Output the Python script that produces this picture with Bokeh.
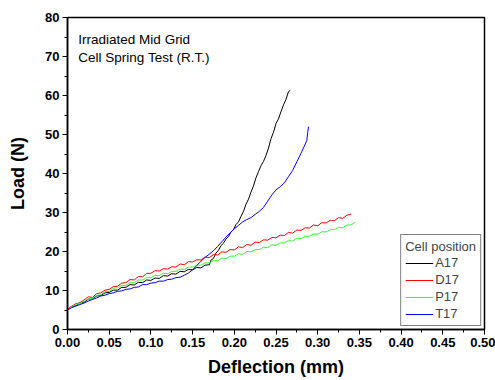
from bokeh.plotting import figure
from bokeh.models import (Range1d, SingleIntervalTicker, NumeralTickFormatter,
                          Label, Legend)
from bokeh.embed import file_html
from bokeh.resources import INLINE

# ---------------- data ----------------
a17_x = [0.000, 0.005, 0.010, 0.015, 0.020, 0.025, 0.030, 0.035, 0.040, 0.045, 0.050, 0.055,
         0.060, 0.065, 0.070, 0.075, 0.080, 0.085, 0.090, 0.095, 0.100, 0.105, 0.110, 0.115,
         0.120, 0.125, 0.130, 0.135, 0.140, 0.145, 0.150, 0.155, 0.160, 0.165, 0.170, 0.172,
         0.175, 0.178, 0.181, 0.184, 0.187, 0.190, 0.193, 0.196, 0.199, 0.202, 0.205, 0.208,
         0.211, 0.214, 0.217, 0.220, 0.223, 0.226, 0.229, 0.232, 0.235, 0.238, 0.241, 0.244,
         0.247, 0.250, 0.253, 0.256, 0.259, 0.262, 0.265, 0.267]
a17_y = [5.0, 5.9, 6.1, 6.8, 7.0, 7.8, 7.9, 8.6, 8.7, 9.4, 9.5, 10.1,
         10.1, 10.8, 10.8, 11.5, 11.4, 12.1, 12.0, 12.7, 12.6, 13.2, 13.1, 13.8,
         13.7, 14.3, 14.2, 14.9, 14.8, 15.4, 15.3, 15.9, 15.8, 16.5, 16.6, 17.8,
         18.2, 19.6, 20.3, 21.5, 22.1, 23.2, 23.8, 25.0, 25.6, 26.9, 27.6, 29.0,
         30.3, 32.1, 33.4, 35.2, 36.8, 38.9, 40.5, 42.0, 43.1, 44.6, 46.5, 48.9,
         50.6, 52.8, 54.0, 55.9, 57.6, 59.0, 61.0, 61.3]

d17_x = [0.000, 0.005, 0.010, 0.015, 0.020, 0.025, 0.030, 0.035, 0.040, 0.045, 0.050, 0.055,
         0.060, 0.065, 0.070, 0.075, 0.080, 0.085, 0.090, 0.095, 0.100, 0.105, 0.110, 0.115,
         0.120, 0.125, 0.130, 0.135, 0.140, 0.145, 0.150, 0.155, 0.160, 0.165, 0.170, 0.175,
         0.180, 0.185, 0.190, 0.195, 0.200, 0.205, 0.210, 0.215, 0.220, 0.225, 0.230, 0.235,
         0.240, 0.245, 0.250, 0.255, 0.260, 0.265, 0.270, 0.275, 0.280, 0.285, 0.290, 0.295,
         0.300, 0.305, 0.310, 0.315, 0.320, 0.325, 0.330, 0.335, 0.340]
d17_y = [5.2, 6.0, 6.6, 6.9, 7.6, 8.4, 8.2, 9.2, 9.4, 10.1, 10.3, 11.0,
         11.1, 11.9, 12.0, 12.8, 12.7, 13.6, 13.5, 14.4, 14.4, 15.1, 15.0, 15.6,
         15.5, 16.1, 16.0, 16.8, 16.6, 17.4, 17.3, 17.9, 17.8, 18.6, 18.4, 19.2,
         19.1, 19.9, 19.8, 20.5, 20.4, 21.2, 21.0, 21.8, 21.6, 22.4, 22.3, 23.0,
         22.9, 23.6, 23.5, 24.2, 24.1, 24.9, 24.7, 25.5, 25.4, 26.1, 26.0, 26.8,
         26.6, 27.4, 27.3, 28.0, 27.9, 28.7, 28.5, 29.3, 29.6]

p17_x = [0.000, 0.005, 0.010, 0.015, 0.020, 0.025, 0.030, 0.035, 0.040, 0.045, 0.050, 0.055,
         0.060, 0.065, 0.070, 0.075, 0.080, 0.085, 0.090, 0.095, 0.100, 0.105, 0.110, 0.115,
         0.120, 0.125, 0.130, 0.135, 0.140, 0.145, 0.150, 0.155, 0.160, 0.165, 0.170, 0.175,
         0.180, 0.185, 0.190, 0.195, 0.200, 0.205, 0.210, 0.215, 0.220, 0.225, 0.230, 0.235,
         0.240, 0.245, 0.250, 0.255, 0.260, 0.265, 0.270, 0.275, 0.280, 0.285, 0.290, 0.295,
         0.300, 0.305, 0.310, 0.315, 0.320, 0.325, 0.330, 0.335, 0.340, 0.345]
p17_y = [4.8, 5.9, 6.4, 6.7, 7.3, 7.9, 8.0, 8.8, 8.9, 9.7, 9.8, 10.6,
         10.7, 11.3, 11.3, 12.0, 12.0, 12.7, 12.7, 13.3, 13.3, 13.9, 13.8, 14.4,
         14.3, 14.9, 14.9, 15.5, 15.4, 16.0, 16.0, 16.5, 16.5, 17.1, 17.1, 17.7,
         17.6, 18.3, 18.2, 18.8, 18.8, 19.4, 19.3, 20.0, 19.9, 20.5, 20.5, 21.1,
         21.0, 21.7, 21.6, 22.2, 22.2, 22.8, 22.7, 23.4, 23.3, 23.9, 23.9, 24.5,
         24.4, 25.1, 25.0, 25.6, 25.6, 26.2, 26.1, 26.8, 26.8, 27.5]

t17_x = [0.000, 0.005, 0.010, 0.015, 0.020, 0.025, 0.030, 0.035, 0.040, 0.045, 0.050, 0.055,
         0.060, 0.065, 0.070, 0.075, 0.080, 0.085, 0.090, 0.095, 0.100, 0.105, 0.110, 0.115,
         0.120, 0.125, 0.130, 0.135, 0.140, 0.145, 0.150, 0.155, 0.160, 0.165, 0.170, 0.175,
         0.180, 0.185, 0.190, 0.195, 0.200, 0.205, 0.210, 0.215, 0.220, 0.225, 0.230, 0.235,
         0.240, 0.245, 0.250, 0.255, 0.260, 0.265, 0.270, 0.275, 0.280, 0.284, 0.287, 0.288,
         0.289]
t17_y = [5.0, 5.6, 6.0, 6.4, 6.8, 7.3, 7.7, 8.1, 8.6, 8.8, 9.2, 9.4,
         9.8, 9.9, 10.3, 10.4, 10.8, 10.9, 11.5, 11.5, 11.9, 12.0, 12.4, 12.4,
         12.8, 12.9, 13.3, 13.4, 13.9, 14.5, 15.3, 16.4, 17.5, 18.5, 19.3, 20.2,
         21.3, 22.5, 23.7, 24.8, 25.8, 26.7, 27.6, 28.2, 28.7, 29.5, 30.3, 31.3,
         32.9, 34.5, 35.8, 36.6, 37.6, 39.2, 40.8, 43.0, 45.2, 47.0, 48.5, 50.5,
         52.0]

series_names = ["A17", "D17", "P17", "T17"]
series_colors = ["#000000", "#ff0000", "#33ff33", "#0000ff"]
series_x = [a17_x, d17_x, p17_x, t17_x]
series_y = [a17_y, d17_y, p17_y, t17_y]

note_lines = ["Irradiated Mid Grid", "Cell Spring Test (R.T.)"]
x_title = "Deflection (mm)"
y_title = "Load (N)"
legend_title = "Cell position"

FONT = "Liberation Sans"

p = figure(width=495, height=380, output_backend="svg", toolbar_location=None,
           x_range=Range1d(0, 0.5), y_range=Range1d(0, 80),
           min_border_left=67, min_border_right=11, min_border_top=17, min_border_bottom=51)
p.background_fill_color = "white"
p.border_fill_color = "white"
p.xgrid.visible = False
p.ygrid.visible = False
p.outline_line_color = "black"
p.outline_line_width = 1.5

renderers = []
for name, col, xs, ys in zip(series_names, series_colors, series_x, series_y):
    r = p.line(xs, ys, line_color=col, line_width=1)
    renderers.append((name, [r]))

# axes
xa = p.xaxis[0]
xa.ticker = SingleIntervalTicker(interval=0.05, num_minor_ticks=2)
xa.formatter = NumeralTickFormatter(format="0.00")
ya = p.yaxis[0]
ya.ticker = SingleIntervalTicker(interval=10, num_minor_ticks=2)
ya.formatter = NumeralTickFormatter(format="0")
for ax, label in ((xa, x_title), (ya, y_title)):
    ax.axis_label = label
    ax.axis_label_text_font = FONT
    ax.axis_label_text_font_style = "bold"
    ax.axis_label_text_font_size = "18px"
    ax.axis_label_text_color = "black"
    ax.major_label_text_font = FONT
    ax.major_label_text_font_style = "bold"
    ax.major_label_text_font_size = "13px"
    ax.major_label_text_color = "black"
    ax.axis_line_color = "black"
    ax.axis_line_width = 1.5
    ax.major_tick_line_color = "black"
    ax.minor_tick_line_color = "black"
    ax.major_tick_line_width = 1
    ax.minor_tick_line_width = 1
    ax.major_tick_in = 0
    ax.major_tick_out = 5
    ax.minor_tick_in = 0
    ax.minor_tick_out = 3
xa.major_label_standoff = 3
xa.axis_label_standoff = 7
ya.major_label_standoff = 3
ya.axis_label_standoff = 14

# annotation text
p.add_layout(Label(x=0.013, y=76.3, text=note_lines[0], text_font=FONT, text_font_size="13.5px",
                   text_baseline="top", text_color="black"))
p.add_layout(Label(x=0.013, y=71.6, text=note_lines[1], text_font=FONT, text_font_size="13.5px",
                   text_baseline="top", text_color="black"))

legend = Legend(items=renderers, location="bottom_right", title=legend_title)
legend.title_text_font = FONT
legend.title_text_font_style = "normal"
legend.title_text_font_size = "13px"
legend.title_standoff = 1
legend.label_text_font = FONT
legend.label_text_font_size = "13px"
legend.label_height = 14
legend.glyph_height = 14
legend.glyph_width = 28
legend.label_standoff = 2
legend.spacing = 2
legend.padding = 4
legend.margin = 3
legend.border_line_color = "black"
legend.border_line_width = 1
legend.background_fill_alpha = 1
p.add_layout(legend)

open("out.html", "w").write(file_html(p, INLINE))
